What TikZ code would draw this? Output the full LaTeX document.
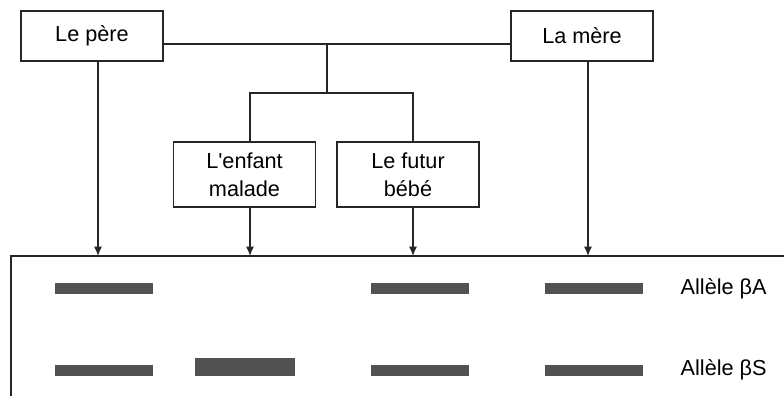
\documentclass[tikz,border=0pt]{standalone}
\usepackage{fontspec}
\setmainfont{Liberation Sans}
\usepackage{tikz}
\usetikzlibrary{arrows.meta, positioning, calc}

\begin{document}
\begin{tikzpicture}[
    x=0.03cm, y=-0.03cm,
    font=\fontsize{18.5}{24}\selectfont,
    line width=1.2pt,
    box/.style={rectangle, draw=black!85, fill=white, minimum height=1.5cm, minimum width=4.26cm, align=center, inner sep=1pt},
    kid/.style={box, minimum height=1.95cm},
    band/.style={rectangle, fill=black!68, inner sep=0pt, minimum width=2.94cm, minimum height=0.33cm},
    arr/.style={-{Latex[length=8pt, width=7pt]}, draw=black!85},
]
\useasboundingbox (0,0) rectangle (784,396);

% Parents
\node[box] (pere) at (92,36) {Le père};
\node[box] (mere) at (582,36) {La mère};

% Children
\node[kid] (enfant) at (244.5,174.5) {L\textquotesingle enfant\\malade};
\node[kid] (bebe) at (408,174.5) {Le futur\\bébé};

% Tree lines
\coordinate (top) at (327,44);
\coordinate (mid) at (327,93);
\coordinate (enfantIn) at ($(enfant.north)+(5.5,0)$);
\coordinate (bebeIn) at ($(bebe.north)+(5,0)$);
\draw[black!85] (pere.east |- top) -- (mere.west |- top);
\draw[black!85] (top) -- (mid);
\draw[black!85] (enfantIn) |- (mid) -| (bebeIn);

% Gel
\coordinate (gel) at (11,256);
\draw[black!85] (800,256) -- (gel) -- (11,400);

% Arrows to the gel
\coordinate (pereOut) at ($(pere.south)+(6,0)$);
\coordinate (enfantOut) at ($(enfant.south)+(5.5,0)$);
\coordinate (bebeOut) at ($(bebe.south)+(5,0)$);
\coordinate (mereOut) at ($(mere.south)+(6,0)$);
\foreach \n in {pereOut, enfantOut, bebeOut, mereOut}
    \draw[arr] (\n) -- (\n |- gel);

% Bands: allele A
\node[band] (pA) at (104,288.5) {};
\node[band] (bA) at (419.5,288.5) {};
\node[band] (mA) at (593.5,288.5) {};

% Bands: allele S
\node[band] (pS) at (104,370.5) {};
\node[band, minimum width=3cm, minimum height=0.54cm] (eS) at (245,367) {};
\node[band] (bS) at (419.5,370.5) {};
\node[band] (mS) at (593.5,370.5) {};

% Labels
\node[anchor=west, inner sep=0pt] (labA) at (680,289) {Allèle βA};
\node[anchor=west, inner sep=0pt] (labS) at (680,370) {Allèle βS};

\end{tikzpicture}
\end{document}
